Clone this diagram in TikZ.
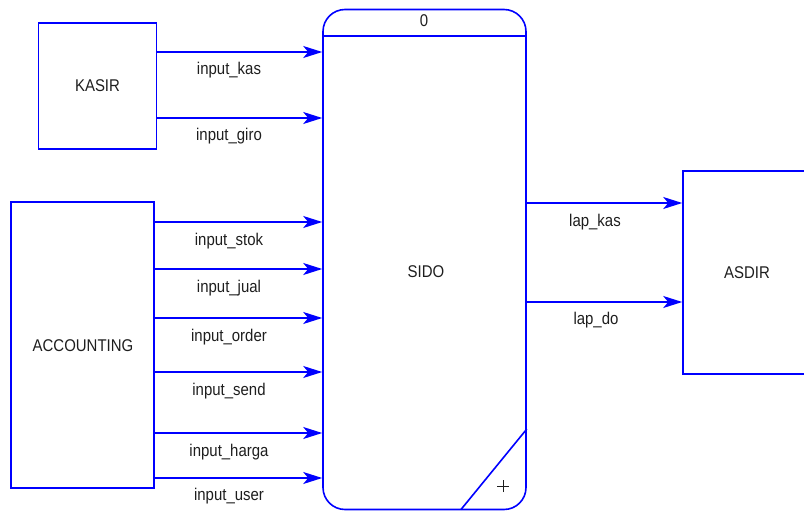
\documentclass[tikz,border=0pt]{standalone}
\usepackage{fontspec}
\setmainfont{Liberation Sans}
\usetikzlibrary{arrows.meta}
\definecolor{dfdblue}{RGB}{0,0,255}
\definecolor{labelgray}{RGB}{30,30,30}
\tikzset{
  entity/.style={draw=dfdblue, line width=1.6pt, rectangle, inner sep=0pt},
  proc/.style={draw=dfdblue, line width=1.6pt, rectangle, rounded corners=22pt, inner sep=0pt},
  flow/.style={draw=dfdblue, line width=1.6pt,
    -{Stealth[length=19pt, width=12pt, inset=5pt]}},
  txt/.style={font=\fontsize{17}{20}\selectfont, text=labelgray, xscale=0.88, inner sep=0pt},
}
\begin{document}
\begin{tikzpicture}[x=1pt, y=-1pt]
\useasboundingbox (0,0) rectangle (804,511);
\clip (0,0) rectangle (804,511);

% external entities
\node[entity, minimum width=118pt, minimum height=126pt] (kasir) at (97.5,86) {};
\node[txt] at (kasir.center) {KASIR};
\node[entity, minimum width=143pt, minimum height=286pt] (acc) at (82.5,345) {};
\node[txt] at (83,346) {ACCOUNTING};
\node[entity, minimum width=128pt, minimum height=203pt] (asdir) at (747,272.5) {};
\node[txt] at (asdir.center) {ASDIR};

% the process
\node[proc, minimum width=203pt, minimum height=500pt] (sido) at (424.5,259.5) {};
\draw[dfdblue, line width=1.6pt] (sido.west |- 0,36) -- (sido.east |- 0,36);
\draw[dfdblue, line width=1.6pt] (sido.east |- 0,429) -- (461,509.5);
\node[txt] at (424,21) {0};
\node[txt] at (426,272) {SIDO};
\coordinate (plus) at (503,486);
\draw[labelgray, line width=0.9pt] ([xshift=-6pt]plus) -- ([xshift=6pt]plus)
  ([yshift=-6pt]plus) -- ([yshift=6pt]plus);

% data flows into the process
\draw[flow] (kasir.east |- 0,52) -- (sido.west |- 0,52);
\draw[flow] (kasir.east |- 0,118) -- (sido.west |- 0,118);
\draw[flow] (acc.east |- 0,222) -- (sido.west |- 0,222);
\draw[flow] (acc.east |- 0,269) -- (sido.west |- 0,269);
\draw[flow] (acc.east |- 0,318) -- (sido.west |- 0,318);
\draw[flow] (acc.east |- 0,372) -- (sido.west |- 0,372);
\draw[flow] (acc.east |- 0,433) -- (sido.west |- 0,433);
\draw[flow] (acc.east |- 0,478) -- (sido.west |- 0,478);

% data flows out of the process
\draw[flow] (sido.east |- 0,203) -- (asdir.west |- 0,203);
\draw[flow] (sido.east |- 0,302) -- (asdir.west |- 0,302);

% flow labels
\node[txt] at (229,70) {input\_kas};
\node[txt] at (229,136) {input\_giro};
\node[txt] at (229,241) {input\_stok};
\node[txt] at (229,288) {input\_jual};
\node[txt] at (229,337) {input\_order};
\node[txt] at (229,391) {input\_send};
\node[txt] at (229,452) {input\_harga};
\node[txt] at (229,496) {input\_user};
\node[txt] at (595,222) {lap\_kas};
\node[txt] at (596,320) {lap\_do};
\end{tikzpicture}
\end{document}
